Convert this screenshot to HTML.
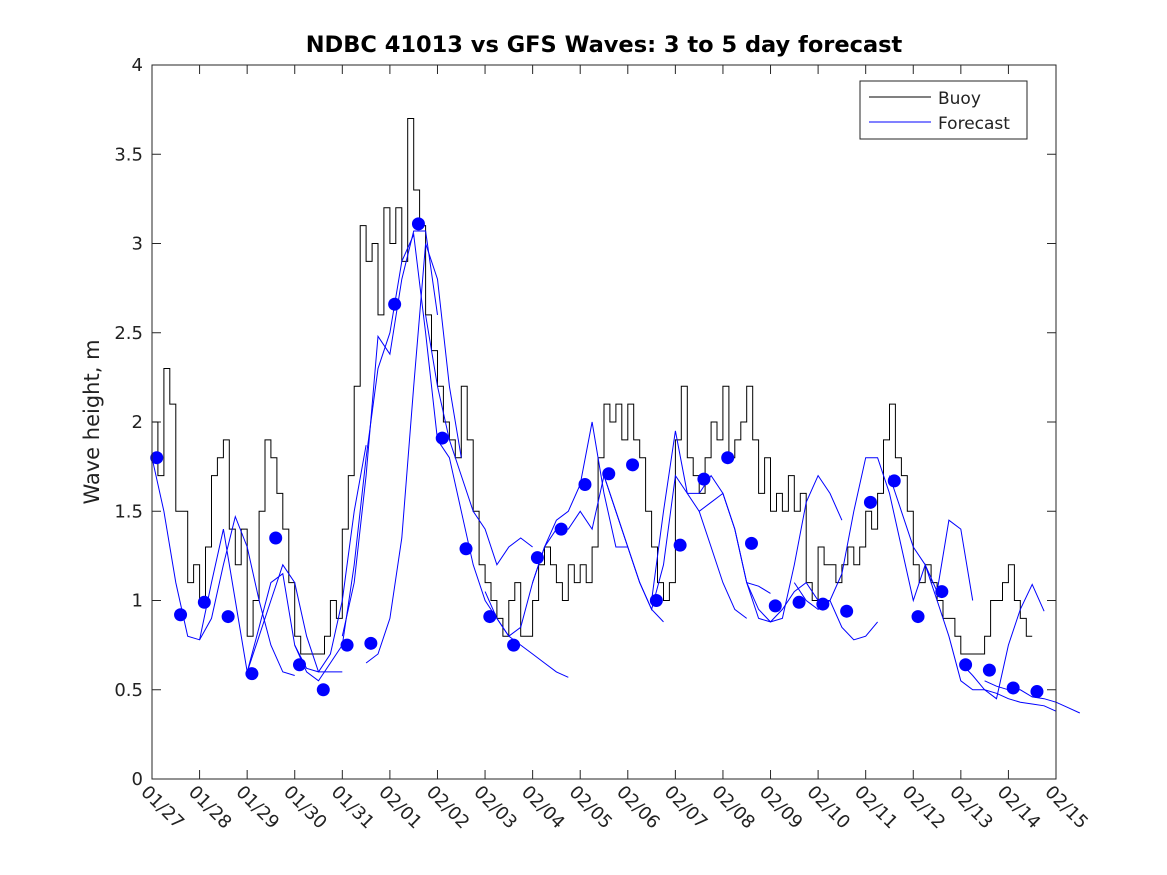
<!DOCTYPE html>
<html><head><meta charset="utf-8"><style>
body{margin:0;background:#fff;}
svg{display:block;font-family:"DejaVu Sans","Liberation Sans",sans-serif;}
</style></head><body>
<svg id="chart" width="1167" height="875">
<rect x="0" y="0" width="1167" height="875" fill="#fff"/>
<text x="604" y="52" text-anchor="middle" font-size="22.5" font-weight="bold">NDBC 41013 vs GFS Waves: 3 to 5 day forecast</text>
<text transform="translate(99,422) rotate(-90)" text-anchor="middle" font-size="21" fill="#222">Wave height, m</text>
<g id="grid"></g>
<g id="series"></g>
<rect x="152" y="65" width="904" height="714" fill="none" stroke="#262626" stroke-width="1"/>
<g>
<rect x="860" y="81" width="167" height="58" fill="#fff" stroke="#262626"/>
<line x1="869" y1="97" x2="931" y2="97" stroke="#000"/>
<text x="938" y="104" font-size="17" fill="#222">Buoy</text>
<line x1="869" y1="122" x2="931" y2="122" stroke="#0000ff"/>
<text x="938" y="129" font-size="17" fill="#222">Forecast</text>
</g>
</svg>
<script>
const dateLabels=["01/27","01/28","01/29","01/30","01/31","02/01","02/02","02/03","02/04","02/05","02/06","02/07","02/08","02/09","02/10","02/11","02/12","02/13","02/14","02/15"];
const yTicks=[0,0.5,1,1.5,2,2.5,3,3.5,4];
const yTickLabels=["0","0.5","1","1.5","2","2.5","3","3.5","4"];
const buoyStep=0.125;
const buoy=[
2.0,1.7,2.3,2.1,1.5,1.5,1.1,1.2,
1.0,1.3,1.7,1.8,1.9,1.4,1.2,1.4,
0.8,1.0,1.5,1.9,1.8,1.6,1.4,1.1,
0.8,0.7,0.7,0.7,0.7,0.8,1.0,0.9,
1.4,1.7,2.2,3.1,2.9,3.0,2.6,3.2,
3.0,3.2,2.9,3.7,3.3,3.1,2.6,2.4,
2.2,2.0,1.9,1.8,2.2,1.9,1.5,1.2,
1.1,1.0,0.9,0.8,1.0,1.1,0.8,0.8,
1.0,1.2,1.3,1.2,1.1,1.0,1.2,1.1,
1.2,1.1,1.3,1.8,2.1,2.0,2.1,1.9,
2.1,1.9,1.8,1.5,1.3,1.1,1.0,1.1,
1.9,2.2,1.8,1.7,1.6,1.8,2.0,1.9,
2.2,1.8,1.9,2.0,2.2,1.9,1.6,1.8,
1.5,1.6,1.5,1.7,1.5,1.6,1.1,1.0,
1.3,1.2,1.2,1.1,1.2,1.3,1.2,1.3,
1.5,1.4,1.6,1.9,2.1,1.8,1.7,1.5,
1.2,1.1,1.2,1.1,1.0,0.9,0.9,0.8,
0.7,0.7,0.7,0.7,0.8,1.0,1.0,1.1,
1.2,1.0,0.9,0.8,0.8];
const dotStart=0.1,dotStep=0.5;
const dots=[1.8,0.92,0.99,0.91,0.59,1.35,0.64,0.5,0.75,0.76,2.66,3.11,1.91,1.29,0.91,0.75,1.24,1.40,1.65,1.71,1.76,1.00,1.31,1.68,1.80,1.32,0.97,0.99,0.98,0.94,1.55,1.67,0.91,1.05,0.64,0.61,0.51,0.49];
const mainForecast=[1.8,1.5,1.1,0.8,0.78,1.1,1.4,1.0,0.6,0.85,1.1,1.15,0.75,0.6,0.55,0.65,0.75,1.2,1.8,2.3,2.5,2.9,3.05,2.5,1.9,1.8,1.5,1.2,1.0,0.9,0.8,0.85,1.1,1.3,1.4,1.4,1.5,1.4,1.7,1.5,1.3,1.1,0.95,1.2,1.7,1.6,1.6,1.7,1.6,1.4,1.1,0.9,0.88,0.95,1.05,1.1,1.0,1.0,1.15,1.5,1.8,1.8,1.6,1.3,1.0,1.2,1.0,0.8,0.55,0.5,0.5,0.48,0.45,0.43,0.42,0.41,0.38];
const runStarts=[1.0,2.0,3.0,4.0,4.5,5.75,7.0,8.0,9.5,10.5,11.5,12.5,13.5,15.5,17.0,17.5];
const run1=[0.78,0.9,1.2,1.47,1.3,1.0,0.75,0.6,0.58];
const run2=[0.6,0.8,1.0,1.2,1.1,0.8,0.6,0.6,0.6];
const run3=[0.75,0.62,0.6,0.7,1.0,1.5,1.87];
const run4=[0.8,1.1,1.7,2.48,2.38,2.8,3.07,3.07,2.6];
const run5=[0.65,0.7,0.9,1.35,2.2,3.0,2.8,2.2,1.8];
const run6=[2.6,2.2,1.9,1.7,1.5,1.4,1.2,1.3,1.35,1.3];
const run7=[1.05,0.9,0.8,0.75,0.7,0.65,0.6,0.57];
const run8=[1.1,1.3,1.45,1.5,1.65,2.0,1.6,1.3,1.3];
const run9=[1.7,1.5,1.3,1.1,0.95,0.88];
const run10=[1.0,1.5,1.95,1.6,1.5,1.3,1.1,0.95,0.9];
const run11=[1.5,1.55,1.6,1.4,1.1,1.08,1.04];
const run12=[1.1,0.95,0.88,0.9,1.2,1.55,1.7,1.6,1.45];
const run13=[1.1,1.0,0.95,1.0,0.85,0.78,0.8,0.88];
const run14=[1.7,1.5,1.3,1.2,1.05,1.45,1.4,1.0];
const run15=[0.65,0.58,0.5,0.45,0.75,0.95,1.09,0.94];
const run16=[0.55,0.52,0.5,0.5,0.46,0.45,0.43,0.4,0.37];
const runs=[run1,run2,run3,run4,run5,run6,run7,run8,run9,run10,run11,run12,run13,run14,run15,run16];

const NS="http://www.w3.org/2000/svg";
const X0=152,X1=1056,Y0=779,Y1=65;
const xs=d=>X0+d*(X1-X0)/19;
const ys=v=>Y0-v*(Y0-Y1)/4;
const g=document.getElementById('grid'),s=document.getElementById('series');
function mk(t,a,p){const e=document.createElementNS(NS,t);for(const k in a)e.setAttribute(k,a[k]);p.appendChild(e);return e;}
dateLabels.forEach((lab,i)=>{
 const x=xs(i);
 const t1=mk('line',{x1:x,y1:Y0,x2:x,y2:Y0-9,stroke:'#262626'},g);
 
 
 const t2=mk('line',{x1:x,y1:Y1,x2:x,y2:Y1+9,stroke:'#262626'},g);
 
 
 const tx=mk('text',{transform:`translate(${x-12},${793}) rotate(45)`,'font-size':18,fill:'#222'},g);
 tx.textContent=lab;
 
 
});
yTicks.forEach((v,i)=>{
 const y=ys(v);
 const a=mk('line',{x1:X0,y1:y,x2:X0+9,y2:y,stroke:'#262626'},g);
 
 
 const b=mk('line',{x1:X1,y1:y,x2:X1-9,y2:y,stroke:'#262626'},g);
 
 
 const tx=mk('text',{x:X0-9,y:y+6,'text-anchor':'end','font-size':18,fill:'#222'},g);
 tx.textContent=yTickLabels[i];
 
 
});
function pts(arr,start,step){return arr.map((v,i)=>xs(start+i*step).toFixed(1)+','+ys(v).toFixed(1)).join(' ');}
let bp=[];buoy.forEach((v,i)=>{const x=xs(i*buoyStep),y=ys(v);if(i>0)bp.push(x.toFixed(1)+','+ys(buoy[i-1]).toFixed(1));bp.push(x.toFixed(1)+','+y.toFixed(1));});
const bl=mk('polyline',{points:bp.join(' '),fill:'none',stroke:'#000','stroke-width':1},s);


const ml=mk('polyline',{points:pts(mainForecast,0,0.25),fill:'none',stroke:'#0000ff','stroke-width':1},s);


runs.forEach((r,i)=>{
 const l=mk('polyline',{points:pts(r,runStarts[i],0.25),fill:'none',stroke:'#0000ff','stroke-width':1},s);
 
 
});
dots.forEach((v,i)=>{
 const c=mk('circle',{cx:xs(dotStart+i*dotStep),cy:ys(v),r:6.5,fill:'#0000ff'},s);
 
 
});
</script>
</body></html>
